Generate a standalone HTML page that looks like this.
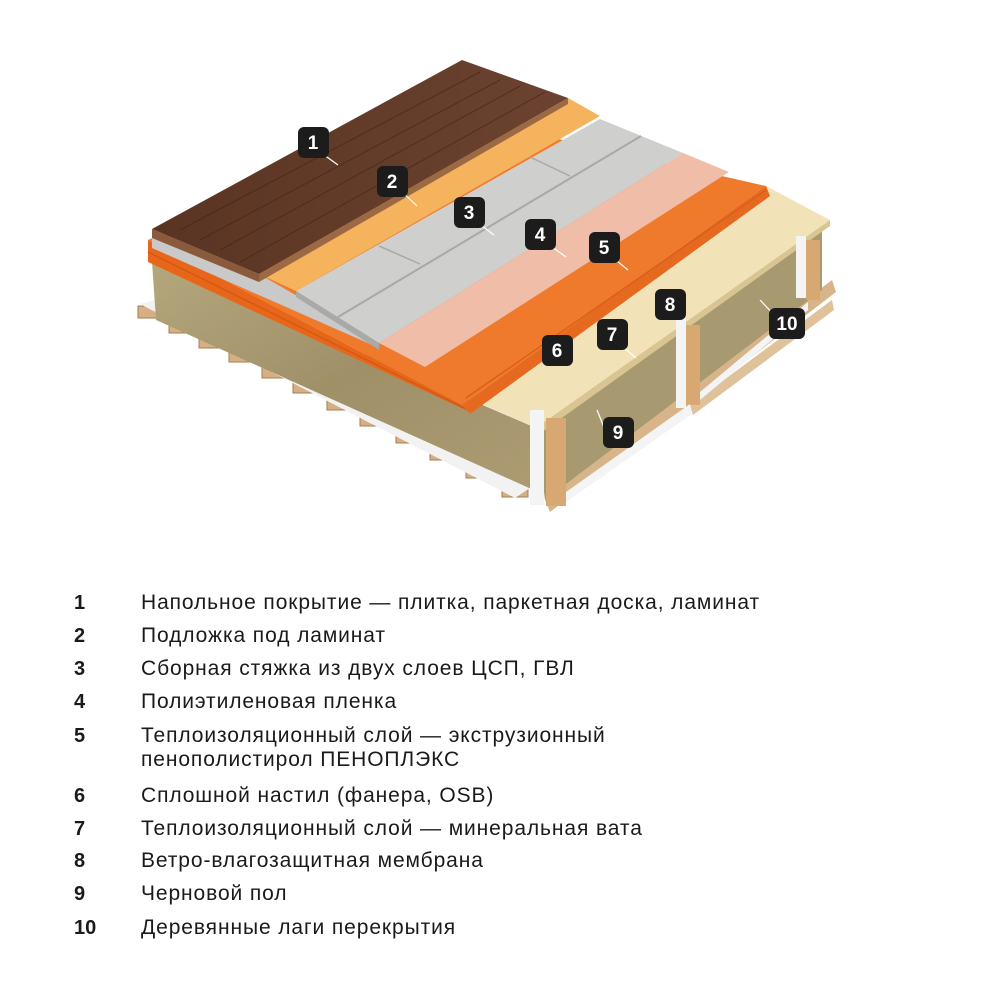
<!DOCTYPE html>
<html><head><meta charset="utf-8"><style>
body{margin:0;background:#fff;width:1000px;height:1000px;overflow:hidden;font-family:"Liberation Sans",sans-serif}
.row{position:absolute;left:0;font-size:21px;letter-spacing:0.9px;color:#1a1a1a;line-height:24px}
.n{position:absolute;left:74px;font-weight:bold;width:30px;font-size:20px;letter-spacing:0}
.t{position:absolute;left:141px;white-space:nowrap}
</style></head><body>
<svg width="1000" height="560" style="position:absolute;left:0;top:0">
<defs>
<linearGradient id="wool" x1="0" y1="0" x2="1" y2="1"><stop offset="0" stop-color="#b5a77c"/><stop offset="0.5" stop-color="#9f9068"/><stop offset="1" stop-color="#ad9c72"/></linearGradient>
<linearGradient id="wood" x1="0" y1="0" x2="1" y2="0"><stop offset="0" stop-color="#5a3422"/><stop offset="1" stop-color="#6b4330"/></linearGradient>
</defs>
<polygon points="545,500 832,280 836,292 550,512" fill="#d8b48a"/>
<polygon points="690,405 832,300 834,310 693,415" fill="#e0c29a"/>
<g fill="#d6b084" stroke="#a57d52" stroke-width="1">
<rect x="138" y="306" width="22" height="12"/>
<rect x="169" y="321" width="22" height="12"/>
<rect x="199" y="336" width="22" height="12"/>
<rect x="229" y="350" width="22" height="12"/>
<rect x="262" y="366" width="22" height="12"/>
<rect x="293" y="381" width="22" height="12"/>
<rect x="327" y="398" width="22" height="12"/>
<rect x="360" y="414" width="22" height="12"/>
<rect x="396" y="431" width="22" height="12"/>
<rect x="430" y="448" width="22" height="12"/>
<rect x="466" y="466" width="22" height="12"/>
<rect x="502" y="483" width="26" height="14"/>
</g>
<polygon points="140,304 155,300 530,488 515,498" fill="#f2f2f2"/>
<polygon points="152,262 536,428 538,492 156,320" fill="url(#wool)"/>
<polygon points="536,428 822,226 822,290 545,500" fill="#a89a70"/>
<polygon points="152,258 766,186 830,220 536,428" fill="#f1e2b8"/>
<polygon points="536,428 830,220 830,226 538,435" fill="#d9c592"/>
<polygon points="148,240 430,110 766,186 462,405" fill="#f07a2c"/>
<polygon points="148,240 462,405 470,412 148,262" fill="#e8661a"/>
<line x1="148" y1="252" x2="466" y2="409" stroke="#d15a14" stroke-width="1.5"/>
<polygon points="462,405 766,186 770,196 470,414" fill="#e56a20"/>
<line x1="466" y1="398" x2="766" y2="190" stroke="#d9601a" stroke-width="1.5"/>
<polygon points="379,343 683,153 729,172 425,367" fill="#efbda8"/>
<polygon points="152,229 259,274 379,343 379,348 152,248" fill="#c9c9c9"/>
<polygon points="296,291 600,119 683,153 379,343" fill="#cfcfcd"/>
<line x1="338" y1="317" x2="641" y2="136" stroke="#a8a8a6" stroke-width="2"/>
<polygon points="296,291 379,343 379,350 296,297" fill="#a9a9a7"/>
<line x1="379" y1="246" x2="420" y2="264" stroke="#a8a8a6" stroke-width="1.5"/>
<line x1="530" y1="157" x2="570" y2="176" stroke="#a8a8a6" stroke-width="1.5"/>
<polygon points="259,274 568,98 600,116 296,291" fill="#f5b35e"/>
<polygon points="152,229 462,60 568,98 259,274" fill="url(#wood)"/>
<polygon points="152,229 259,274 259,282 152,238" fill="#8a5a3c"/>
<polygon points="259,274 568,98 568,104 259,282" fill="#9b6a44"/>
<g stroke="#3f2416" stroke-width="1" opacity="0.6">
<line x1="180" y1="230" x2="480" y2="72"/><line x1="200" y1="240" x2="500" y2="80"/>
<line x1="220" y1="250" x2="520" y2="86"/><line x1="240" y1="262" x2="545" y2="92"/>
</g>
<rect x="530" y="410" width="14" height="95" fill="#f4f4f4"/>
<rect x="546" y="418" width="20" height="88" fill="#d7a872"/>
<rect x="676" y="318" width="10" height="90" fill="#f4f4f4"/>
<rect x="686" y="325" width="14" height="80" fill="#d7a872"/>
<rect x="796" y="236" width="10" height="62" fill="#f4f4f4"/>
<rect x="806" y="240" width="14" height="60" fill="#d7a872"/>
<polygon points="566,492 690,404 692,414 566,502" fill="#f4f4f4"/>
<polygon points="700,392 808,302 808,310 700,400" fill="#f4f4f4"/>
<g font-family="Liberation Sans" font-weight="bold" font-size="19" fill="#fff" text-anchor="middle">
<g stroke="#fff" stroke-width="1.2"><line x1="320" y1="152" x2="338" y2="165"/><line x1="400" y1="190" x2="417" y2="206"/><line x1="477" y1="222" x2="494" y2="235"/><line x1="548" y1="244" x2="566" y2="257"/><line x1="612" y1="257" x2="628" y2="270"/><line x1="620" y1="344" x2="636" y2="358"/><line x1="610" y1="442" x2="597" y2="410"/><line x1="777" y1="318" x2="760" y2="300"/></g>
<rect x="298" y="127" width="31" height="31" rx="6" fill="#1c1c1c"/><text x="313" y="149">1</text>
<rect x="377" y="166" width="31" height="31" rx="6" fill="#1c1c1c"/><text x="392" y="188">2</text>
<rect x="454" y="197" width="31" height="31" rx="6" fill="#1c1c1c"/><text x="469" y="219">3</text>
<rect x="525" y="219" width="31" height="31" rx="6" fill="#1c1c1c"/><text x="540" y="241">4</text>
<rect x="589" y="232" width="31" height="31" rx="6" fill="#1c1c1c"/><text x="604" y="254">5</text>
<rect x="542" y="335" width="31" height="31" rx="6" fill="#1c1c1c"/><text x="557" y="357">6</text>
<rect x="597" y="319" width="31" height="31" rx="6" fill="#1c1c1c"/><text x="612" y="341">7</text>
<rect x="655" y="289" width="31" height="31" rx="6" fill="#1c1c1c"/><text x="670" y="311">8</text>
<rect x="603" y="417" width="31" height="31" rx="6" fill="#1c1c1c"/><text x="618" y="439">9</text>
<rect x="769" y="308" width="36" height="31" rx="6" fill="#1c1c1c"/><text x="787" y="330">10</text>
</g>
</svg>
<div class="row" style="top:591px"><span class="n">1</span><span class="t">Напольное покрытие — плитка, паркетная доска, ламинат</span></div>
<div class="row" style="top:624px"><span class="n">2</span><span class="t">Подложка под ламинат</span></div>
<div class="row" style="top:657px"><span class="n">3</span><span class="t">Сборная стяжка из двух слоев ЦСП, ГВЛ</span></div>
<div class="row" style="top:690px"><span class="n">4</span><span class="t">Полиэтиленовая пленка</span></div>
<div class="row" style="top:724px"><span class="n">5</span><span class="t">Теплоизоляционный слой — экструзионный<br>пенополистирол ПЕНОПЛЭКС</span></div>
<div class="row" style="top:784px"><span class="n">6</span><span class="t">Сплошной настил (фанера, OSB)</span></div>
<div class="row" style="top:817px"><span class="n">7</span><span class="t">Теплоизоляционный слой — минеральная вата</span></div>
<div class="row" style="top:849px"><span class="n">8</span><span class="t">Ветро-влагозащитная мембрана</span></div>
<div class="row" style="top:882px"><span class="n">9</span><span class="t">Черновой пол</span></div>
<div class="row" style="top:916px"><span class="n">10</span><span class="t">Деревянные лаги перекрытия</span></div>
</body></html>
